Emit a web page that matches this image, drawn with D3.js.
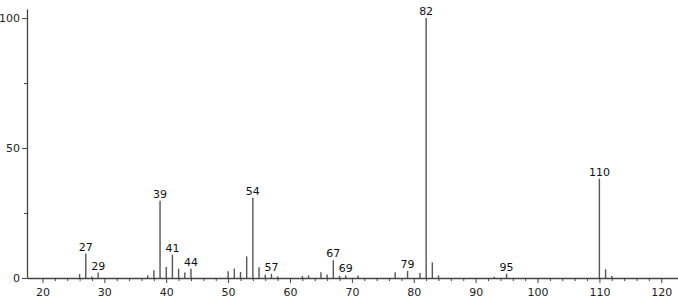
<!doctype html>
<html>
    <head>
        <script src="https://d3js.org/d3.v7.min.js"></script>
        <style>
            body,
            html {
                margin: 0;
                padding: 0;
                overflow: hidden;
                background: #fff;
            }
            text {
                font-family: "DejaVu Sans", sans-serif;
            }
        </style>
    </head>
    <body>
        <script>
            // m/z values and relative intensities
            const mz = [26, 27, 28, 29, 37, 38, 39, 40, 41, 42, 43, 44,
                50, 51, 52, 53, 54, 55, 56, 57, 58, 62, 63, 65, 66, 67, 68, 69,
                71, 77, 79, 81, 82, 83, 84, 93, 95, 110, 111, 112];
            const intensity = [1.5, 9.4, 0.6, 2.1, 1.0, 3.0, 29.7, 4.2, 9.0, 3.6, 2.1, 3.6,
                2.6, 3.6, 2.3, 8.3, 30.9, 4.1, 1.3, 1.6, 0.6, 0.8, 1.0, 2.2, 1.3, 6.8, 0.8, 1.0,
                1.0, 2.2, 2.7, 1.9, 100, 6.0, 1.0, 0.5, 1.7, 38.2, 3.4, 0.8];
            const labeled = [27, 29, 39, 41, 44, 54, 57, 67, 69, 79, 82, 95, 110];
            const xMajor = [20, 30, 40, 50, 60, 70, 80, 90, 100, 110, 120];
            const xMinor = d3.range(22, 121, 2).filter((d) => d % 10 !== 0);
            const yMajor = [0, 50, 100];
            const yMinor = [25, 75];

            const width = 678;
            const height = 300;
            const svg = d3
                .create("svg")
                .attr("width", width)
                .attr("height", height)
                .attr("viewBox", [0, 0, width, height]);

            const x = d3.scaleLinear().domain([17.5, 122.7]).range([27, 678]);
            const y = d3.scaleLinear().domain([0, 103.5]).range([278, 9]);

            const peaks = mz.map((m, i) => ({ mz: m, v: intensity[i] }));

            // peaks
            svg.append("g")
                .attr("stroke", "#555")
                .attr("stroke-width", 1.4)
                .selectAll()
                .data(peaks)
                .join("line")
                .attr("x1", (d) => x(d.mz))
                .attr("x2", (d) => x(d.mz))
                .attr("y1", y(0))
                .attr("y2", (d) => y(d.v));

            // x axis
            const xAxis = svg.append("g").attr("transform", `translate(0,${y(0)})`);
            xAxis.call(
                d3.axisBottom(x).tickValues(xMinor).tickSize(3).tickSizeOuter(0).tickFormat("")
            );
            xAxis.append("g").call(
                d3.axisBottom(x).tickValues(xMajor).tickSize(5).tickSizeOuter(0).tickPadding(5)
            );
            xAxis.selectAll("g g .domain").remove();

            // y axis
            const yAxis = svg.append("g").attr("transform", `translate(${x.range()[0]},0)`);
            yAxis.call(
                d3.axisLeft(y).tickValues(yMinor).tickSize(3).tickSizeOuter(0).tickFormat("")
            );
            yAxis.append("g").call(
                d3.axisLeft(y).tickValues(yMajor).tickSize(5).tickSizeOuter(0).tickPadding(2)
            );
            yAxis.selectAll("g g .domain").remove();

            svg.selectAll(".domain").attr("stroke", "#444").attr("stroke-width", 1.3);
            svg.selectAll(".tick line").attr("stroke", "#444");
            svg.selectAll(".tick text")
                .attr("fill", "#222")
                .attr("font-size", 11)
                .attr("font-family", "DejaVu Sans, sans-serif");

            // peak labels
            svg.append("g")
                .selectAll()
                .data(peaks.filter((d) => labeled.includes(d.mz)))
                .join("text")
                .attr("x", (d) => x(d.mz))
                .attr("y", (d) => y(d.v) - 3)
                .attr("text-anchor", "middle")
                .attr("font-size", 11)
                .attr("fill", "#111")
                .text((d) => d.mz);

            document.body.appendChild(svg.node());
        </script>
    </body>
</html>
